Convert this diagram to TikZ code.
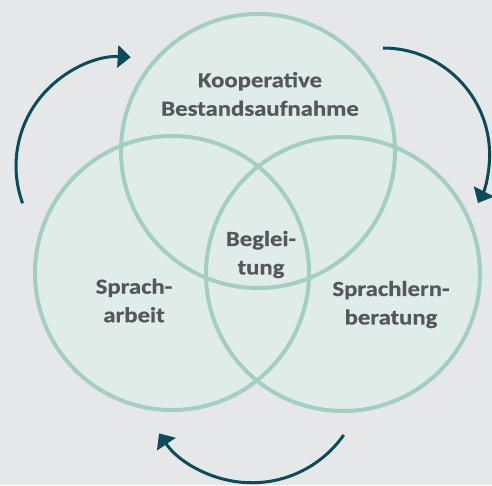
\documentclass[tikz,border=0pt]{standalone}
\usepackage{fontspec}
\setmainfont{Carlito}
\newfontfamily\setlabelfont{Carlito}[FakeStretch=1.15, BoldFeatures={FakeBold=0.6}]
\usetikzlibrary{arrows.meta}
\definecolor{bggray}{HTML}{E6E7E9}
\definecolor{setfill}{HTML}{E0ECE8}
\definecolor{setline}{HTML}{A3CEC0}
\definecolor{txtgray}{HTML}{56575A}
\definecolor{cyclecol}{HTML}{0C4B58}

\begin{document}
\begin{tikzpicture}[x=1pt,y=1pt]
	\tikzstyle{every node} = [font=\setlabelfont\bfseries\fontsize{21.5}{28.5}\selectfont, text=txtgray, align=center]
	\tikzstyle{cycle} = [cyclecol, line width=3pt, -{Triangle[length=13pt,width=22pt]}]
	\useasboundingbox (0,0) rectangle (492,485);
	\fill[bggray] (0,0) rectangle (492,485);
	% the three sets
	\coordinate (T) at (258,334);
	\coordinate (L) at (172,212);
	\coordinate (R) at (343,211);
	\foreach \c in {T,L,R}
		\fill[setfill] (\c) circle[radius=137pt];
	\foreach \c in {T,L,R}
		\draw[setline, line width=4pt] (\c) circle[radius=137pt];
	% cycle arrows
	\coordinate (a1) at (22.6,281.7);
	\coordinate (a2) at (383,437);
	\coordinate (a3) at (343.7,50);
	\draw[cycle] (a1) arc[start angle=200, end angle=87, radius=109pt];
	\draw[cycle] (a2) arc[start angle=90, end angle=-27, radius=106.6pt];
	\draw[cycle] (a3) arc[start angle=-35, end angle=-146, radius=112pt];
	% labels
	\node (koop) at (260,391) {Kooperative\\Bestandsaufnahme};
	\node (begl) at (261,230.5) {Beglei-\\tung};
	\node (spra) at (134,184.5) {Sprach-\\arbeit};
	\node (spln) at (391,180.5) {Sprachlern-\\beratung};
\end{tikzpicture}
\end{document}
